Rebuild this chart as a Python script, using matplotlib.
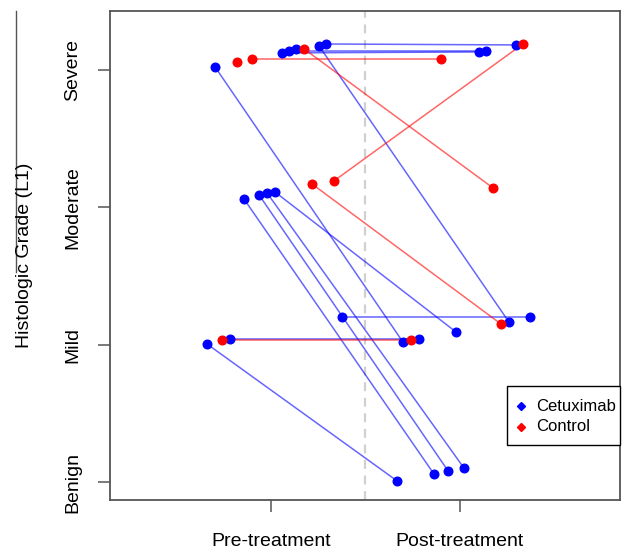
import numpy as np
import matplotlib
matplotlib.use("Agg")
import matplotlib.pyplot as plt
from matplotlib.lines import Line2D
from matplotlib.patches import Rectangle

plt.rcParams['font.family'] = ['Liberation Sans', 'DejaVu Sans']

nan = np.nan

grade_ticks = [1, 2, 3, 4]
grade_labels = ["Benign", "Mild", "Moderate", "Severe"]
time_ticks = [1, 2]
time_labels = ["Pre-treatment", "Post-treatment"]
legend_labels = ["Cetuximab", "Control"]

# Cetuximab group (jittered positions)
cet_pre_x = [0.704, 1.291, 1.254, 1.058, 1.095, 1.132, 0.857, 0.937, 0.979, 1.021, 1.376, 0.661, 0.783]
cet_pre_y = [4.022, 4.189, 4.175, 4.124, 4.138, 4.153, 3.061, 3.090, 3.105, 3.112, 2.202, 2.006, 2.042]
cet_post_x = [1.698, 2.296, 2.259, 2.101, 2.138, nan, 1.862, 1.937, 2.021, 1.979, 2.370, 1.667, 1.783]
cet_post_y = [2.020, 4.182, 2.166, 4.131, 4.138, nan, 1.060, 1.082, 1.103, 2.093, 2.202, 1.009, 2.042]

# Control group
ctl_pre_x = [0.820, 0.899, 1.175, 1.333, 1.217, 0.741]
ctl_pre_y = [4.058, 4.080, 4.153, 3.192, 3.170, 2.035]
ctl_post_x = [nan, 1.899, 2.175, 2.333, 2.217, 1.741]
ctl_post_y = [nan, 4.080, 3.141, 4.189, 2.151, 2.035]

BLUE = "#0000ff"
RED = "#ff0000"
FRAME = "#555555"

fig = plt.figure(figsize=(6.27, 5.51), dpi=100)
ax = fig.add_axes([110/627, 1-500/551, 510/627, 489/551])

ax.axvline(1.5, color="#d0d0d0", lw=1.6, ls=(0, (4, 3)), zorder=1)

def draw_group(px, py, qx, qy, color):
    for a, b, c, d in zip(px, py, qx, qy):
        if not (np.isnan(c) or np.isnan(d)):
            ax.plot([a, c], [b, d], color=color, lw=1.1, alpha=0.6, zorder=2,
                    solid_capstyle='butt')
    ax.plot(px, py, 'o', color=color, ms=6.2, mec=color, zorder=3, ls='none')
    ax.plot(qx, qy, 'o', color=color, ms=6.2, mec=color, zorder=3, ls='none')

draw_group(cet_pre_x, cet_pre_y, cet_post_x, cet_post_y, BLUE)
draw_group(ctl_pre_x, ctl_pre_y, ctl_post_x, ctl_post_y, RED)

ax.set_xlim(0.148, 2.847)
ax.set_ylim(0.870, 4.429)

ax.set_xticks(time_ticks)
ax.set_xticklabels(time_labels, fontsize=14)
ax.set_yticks(grade_ticks)
ax.set_yticklabels(grade_labels, fontsize=14, rotation=90, va='center')

ax.tick_params(axis='both', direction='out', length=8.5, width=1.1, color=FRAME)
ax.tick_params(axis='x', pad=15)
ax.tick_params(axis='y', pad=12)
for s in ax.spines.values():
    s.set_color(FRAME)
    s.set_linewidth(1.3)

fig.text(25/627, 1-255/551, "Histologic Grade (L1)", rotation=90, fontsize=14,
         ha='center', va='center')

# thin vertical artifact line at the far left
fig.add_artist(Line2D([16/627, 16/627], [1-11/551, 1-272/551],
                      color="#555555", lw=1.0, transform=fig.transFigure))

# legend box (R style: tight horizontal padding, roomy vertical padding)
T = ax.transAxes
ax.add_patch(Rectangle((0.7784, 0.1125), 0.2216, 0.1207, transform=T,
                       facecolor='white', edgecolor='black', lw=1.0,
                       zorder=5, clip_on=False))
for lab, col, yy in zip(legend_labels, [BLUE, RED], [0.1922, 0.1493]):
    ax.plot([0.806], [yy], marker='D', color=col, ms=4.5, transform=T,
            zorder=6, clip_on=False, ls='none')
    ax.text(0.835, yy, lab, transform=T, fontsize=12, va='center',
            ha='left', zorder=6)

fig.savefig("out.png", dpi=100)
